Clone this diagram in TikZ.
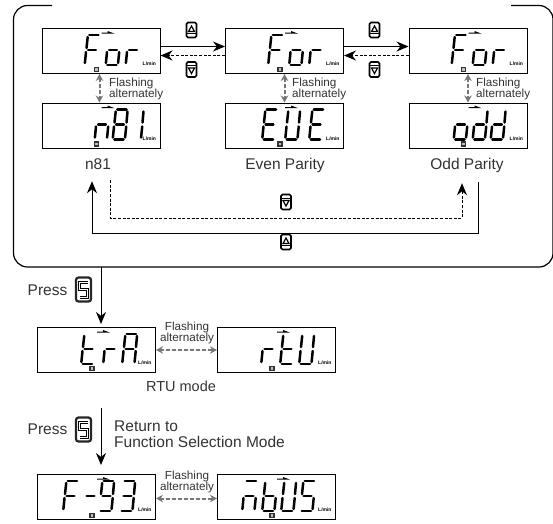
\documentclass[tikz,border=0pt]{standalone}
\usepackage{fontspec}
\setmainfont{Liberation Sans}
\usetikzlibrary{arrows.meta}
\definecolor{inkgrey}{HTML}{333333}
\definecolor{flashgrey}{HTML}{777777}
\tikzset{
  lcd/.style={draw,line width=1pt,anchor=north west,minimum width=118pt,minimum height=45pt,inner sep=0pt},
  lcdseg/.style={line width=2.5pt,line cap=round},
  sega/.style={insert path={(4.8,0)--(14,0)}},
  segb/.style={insert path={(15,2)--(14,13)}},
  segc/.style={insert path={(13.7,17)--(12.6,28)}},
  segd/.style={insert path={(1.8,30)--(11,30)}},
  sege/.style={insert path={(1.5,17)--(0.4,28)}},
  segf/.style={insert path={(3.2,2)--(2,13)}},
  segg/.style={insert path={(3.6,15)--(11.4,15)}},
  unitlab/.style={font=\bfseries\fontsize{5}{5}\selectfont,inner sep=0pt,anchor=west},
  iconbox/.style={draw=black!80,fill=black!25,line width=1.6pt,minimum size=4pt,inner sep=0pt},
  keybtn/.style={draw,line width=1.6pt,rounded corners=1.5pt,minimum width=10pt,minimum height=15pt,inner sep=0pt},
  skey/.style={draw=black!85,line width=2.2pt,rounded corners=2.5pt,minimum width=15pt,minimum height=24pt,inner sep=0pt},
  caption/.style={font=\fontsize{15.5}{15.5}\selectfont,text=inkgrey,inner sep=0pt,text height=11pt,text depth=3pt},
  flashlab/.style={font=\fontsize{11.7}{11}\selectfont,text=inkgrey,inner sep=0pt,align=left},
  solidarrow/.style={-{Stealth[length=12pt,width=10pt]},line width=1pt},
  dasharrow/.style={-{Stealth[length=12pt,width=10pt]},line width=1pt,dash pattern=on 3pt off 1.6pt},
  flasharrow/.style={{Stealth[length=7pt,width=7.5pt]}-{Stealth[length=7pt,width=7.5pt]},draw=flashgrey,fill=flashgrey,line width=2pt,dash pattern=on 3.5pt off 2.5pt},
}
\newcommand{\lcdbox}[4]{
  \node[lcd] (#1) at (#2,#3) {};
  \begin{scope}[shift={(#1.north west)}]
    \fill (60,4.6) -- (66,4.6) -- (66,3) -- (73,5.6) -- (60,5.6) -- cycle;
    \node[unitlab] (#1-unit) at (101,36) {L/min};
    \node[iconbox] (#1-icon) at (55,41.5) {};
    \foreach \gx/\gs in {#4} {
      \begin{scope}[shift={(\gx,7)}]
        \foreach \s in \gs { \draw[lcdseg,seg\s]; }
      \end{scope}
    }
  \end{scope}
}
\newcommand{\keyicon}[4]{
  \node[keybtn] (#1) at (#2,#3) {};
  \begin{scope}[shift={(#1.center)},yscale=#4]
    \draw[line width=1.2pt,line join=miter] (-3,1.5) -- (0,-4) -- (3,1.5) -- cycle;
    \draw[line width=0.9pt] (-5,3.8) -- (5,3.8);
  \end{scope}
}
\newcommand{\setkey}[3]{
  \node[skey] (#1) at (#2,#3) {};
  \begin{scope}[shift={(#1.center)}]
    \draw[line width=3pt,line join=miter] (4,-7.5) -- (-4,-7.5) -- (-4,0) -- (4,0) -- (4,7.5) -- (-4,7.5);
    \draw[white,line width=0.9pt] (4,-7.5) -- (-4,-7.5) -- (-4,0) -- (4,0) -- (4,7.5) -- (-4,7.5);
  \end{scope}
}
\begin{document}
\begin{tikzpicture}[x=1pt,y=-1pt]
  \useasboundingbox (0,0) rectangle (553,523);

  \draw[line width=1.2pt,rounded corners=14pt] (52,5.5) -- (13.5,5.5) -- (13.5,267) -- (553,267) -- (553,5.5) -- (511,5.5);
  \coordinate (framepress) at (101,267);
  \coordinate (pressend) at (101,408);
  \coordinate (returnend) at (101,465);

  \lcdbox{forA}{41.5}{28}{43/{a,e,f,g},64/{c,d,e,g},84/{e,g}}
  \lcdbox{forB}{225}{28}{43/{a,e,f,g},64/{c,d,e,g},84/{e,g}}
  \lcdbox{forC}{408.5}{28}{43/{a,e,f,g},64/{c,d,e,g},84/{e,g}}
  \lcdbox{neightone}{41.5}{102.5}{53/{c,e,g},71/{a,b,c,d,e,f,g},87/{b,c}}
  \lcdbox{even}{225}{102.5}{37/{a,d,e,f,g},60/{b,c,d,e,f},84/{a,d,e,f,g}}
  \lcdbox{odd}{408.5}{102.5}{45/{c,d,e,g},64/{b,c,d,e,g},82/{b,c,d,e,g}}
  \lcdbox{tra}{37}{327}{44/{d,e,f,g},66/{e,g},85/{a,b,c,e,f,g}}
  \lcdbox{rtu}{217}{327}{44/{e,g},63/{d,e,f,g},82/{b,c,d,e,f}}
  \lcdbox{fnum}{37}{474}{26/{a,e,f,g},46/{g},62/{a,b,c,d,f,g},83/{a,b,c,d,g}}
  \lcdbox{mbus}{217}{474}{25/{a,c,e,g},45/{c,d,e,f,g},64/{b,c,d,e,f},83/{a,c,d,f,g}}

  \node[caption] (neightonelab) at (98,165) {n81};
  \node[caption] (evenlab) at (285,165) {Even Parity};
  \node[caption] (oddlab) at (467,165) {Odd Parity};
  \node[caption,font=\fontsize{14.5}{14.5}\selectfont] (rtulab) at (181,387) {RTU mode};

  \node[flashlab,anchor=west] (flashA) at (109,88.5) {Flashing\\alternately};
  \node[flashlab,anchor=west] (flashB) at (292,88.5) {Flashing\\alternately};
  \node[flashlab,anchor=west] (flashC) at (476,88.5) {Flashing\\alternately};
  \node[flashlab,align=center] (flashD) at (187,332.5) {Flashing\\alternately};
  \node[flashlab,align=center] (flashE) at (187,481.5) {Flashing\\alternately};

  \draw[flasharrow] ([xshift=-1.5pt]forA.south) -- ([xshift=-1.5pt]neightone.north);
  \draw[flasharrow] (forB.south) -- (even.north);
  \draw[flasharrow] (forC.south) -- (odd.north);
  \draw[flasharrow] (tra.east) -- (rtu.west);
  \draw[flasharrow] ([yshift=-1.5pt]fnum.east) -- ([yshift=-1.5pt]mbus.west);

  \draw[solidarrow] ([yshift=4.5pt]forA.east) -- ([yshift=4.5pt]forB.west);
  \draw[dasharrow] ([yshift=-4.5pt]forB.west) -- ([yshift=-4.5pt]forA.east);
  \draw[solidarrow] ([yshift=4.5pt]forB.east) -- ([yshift=4.5pt]forC.west);
  \draw[dasharrow] ([yshift=-4.5pt]forC.west) -- ([yshift=-4.5pt]forB.east);

  \keyicon{upA}{191.5}{30}{1}
  \keyicon{downA}{191.5}{69.5}{-1}
  \keyicon{upB}{374.5}{30}{1}
  \keyicon{downB}{374.5}{69.5}{-1}
  \keyicon{downC}{286}{202}{-1}
  \keyicon{upC}{286}{242}{1}

  \draw[solidarrow] ([xshift=11pt,yshift=-10pt]oddlab.south) -- ++(0,51) -| ([xshift=-6pt,yshift=-9pt]neightonelab.south);
  \draw[dasharrow] ([xshift=12pt,yshift=-8pt]neightonelab.south) -- ++(0,38) -| ([xshift=-5pt,yshift=-11pt]oddlab.south);

  \node[caption] (pressA) at (47.5,291) {Press};
  \setkey{setA}{83.5}{289.5}
  \node[caption] (pressB) at (47.5,430) {Press};
  \setkey{setB}{83.5}{429.5}
  \draw[solidarrow] (framepress) -- ([xshift=4.5pt,yshift=3pt]tra.north);
  \draw[solidarrow] (pressend) -- (returnend);
  \node[caption,anchor=north west,align=left,text height=,text depth=,font=\fontsize{15.5}{16}\selectfont] (returnlab) at (114,421) {Return to\\Function Selection Mode};
\end{tikzpicture}
\end{document}
